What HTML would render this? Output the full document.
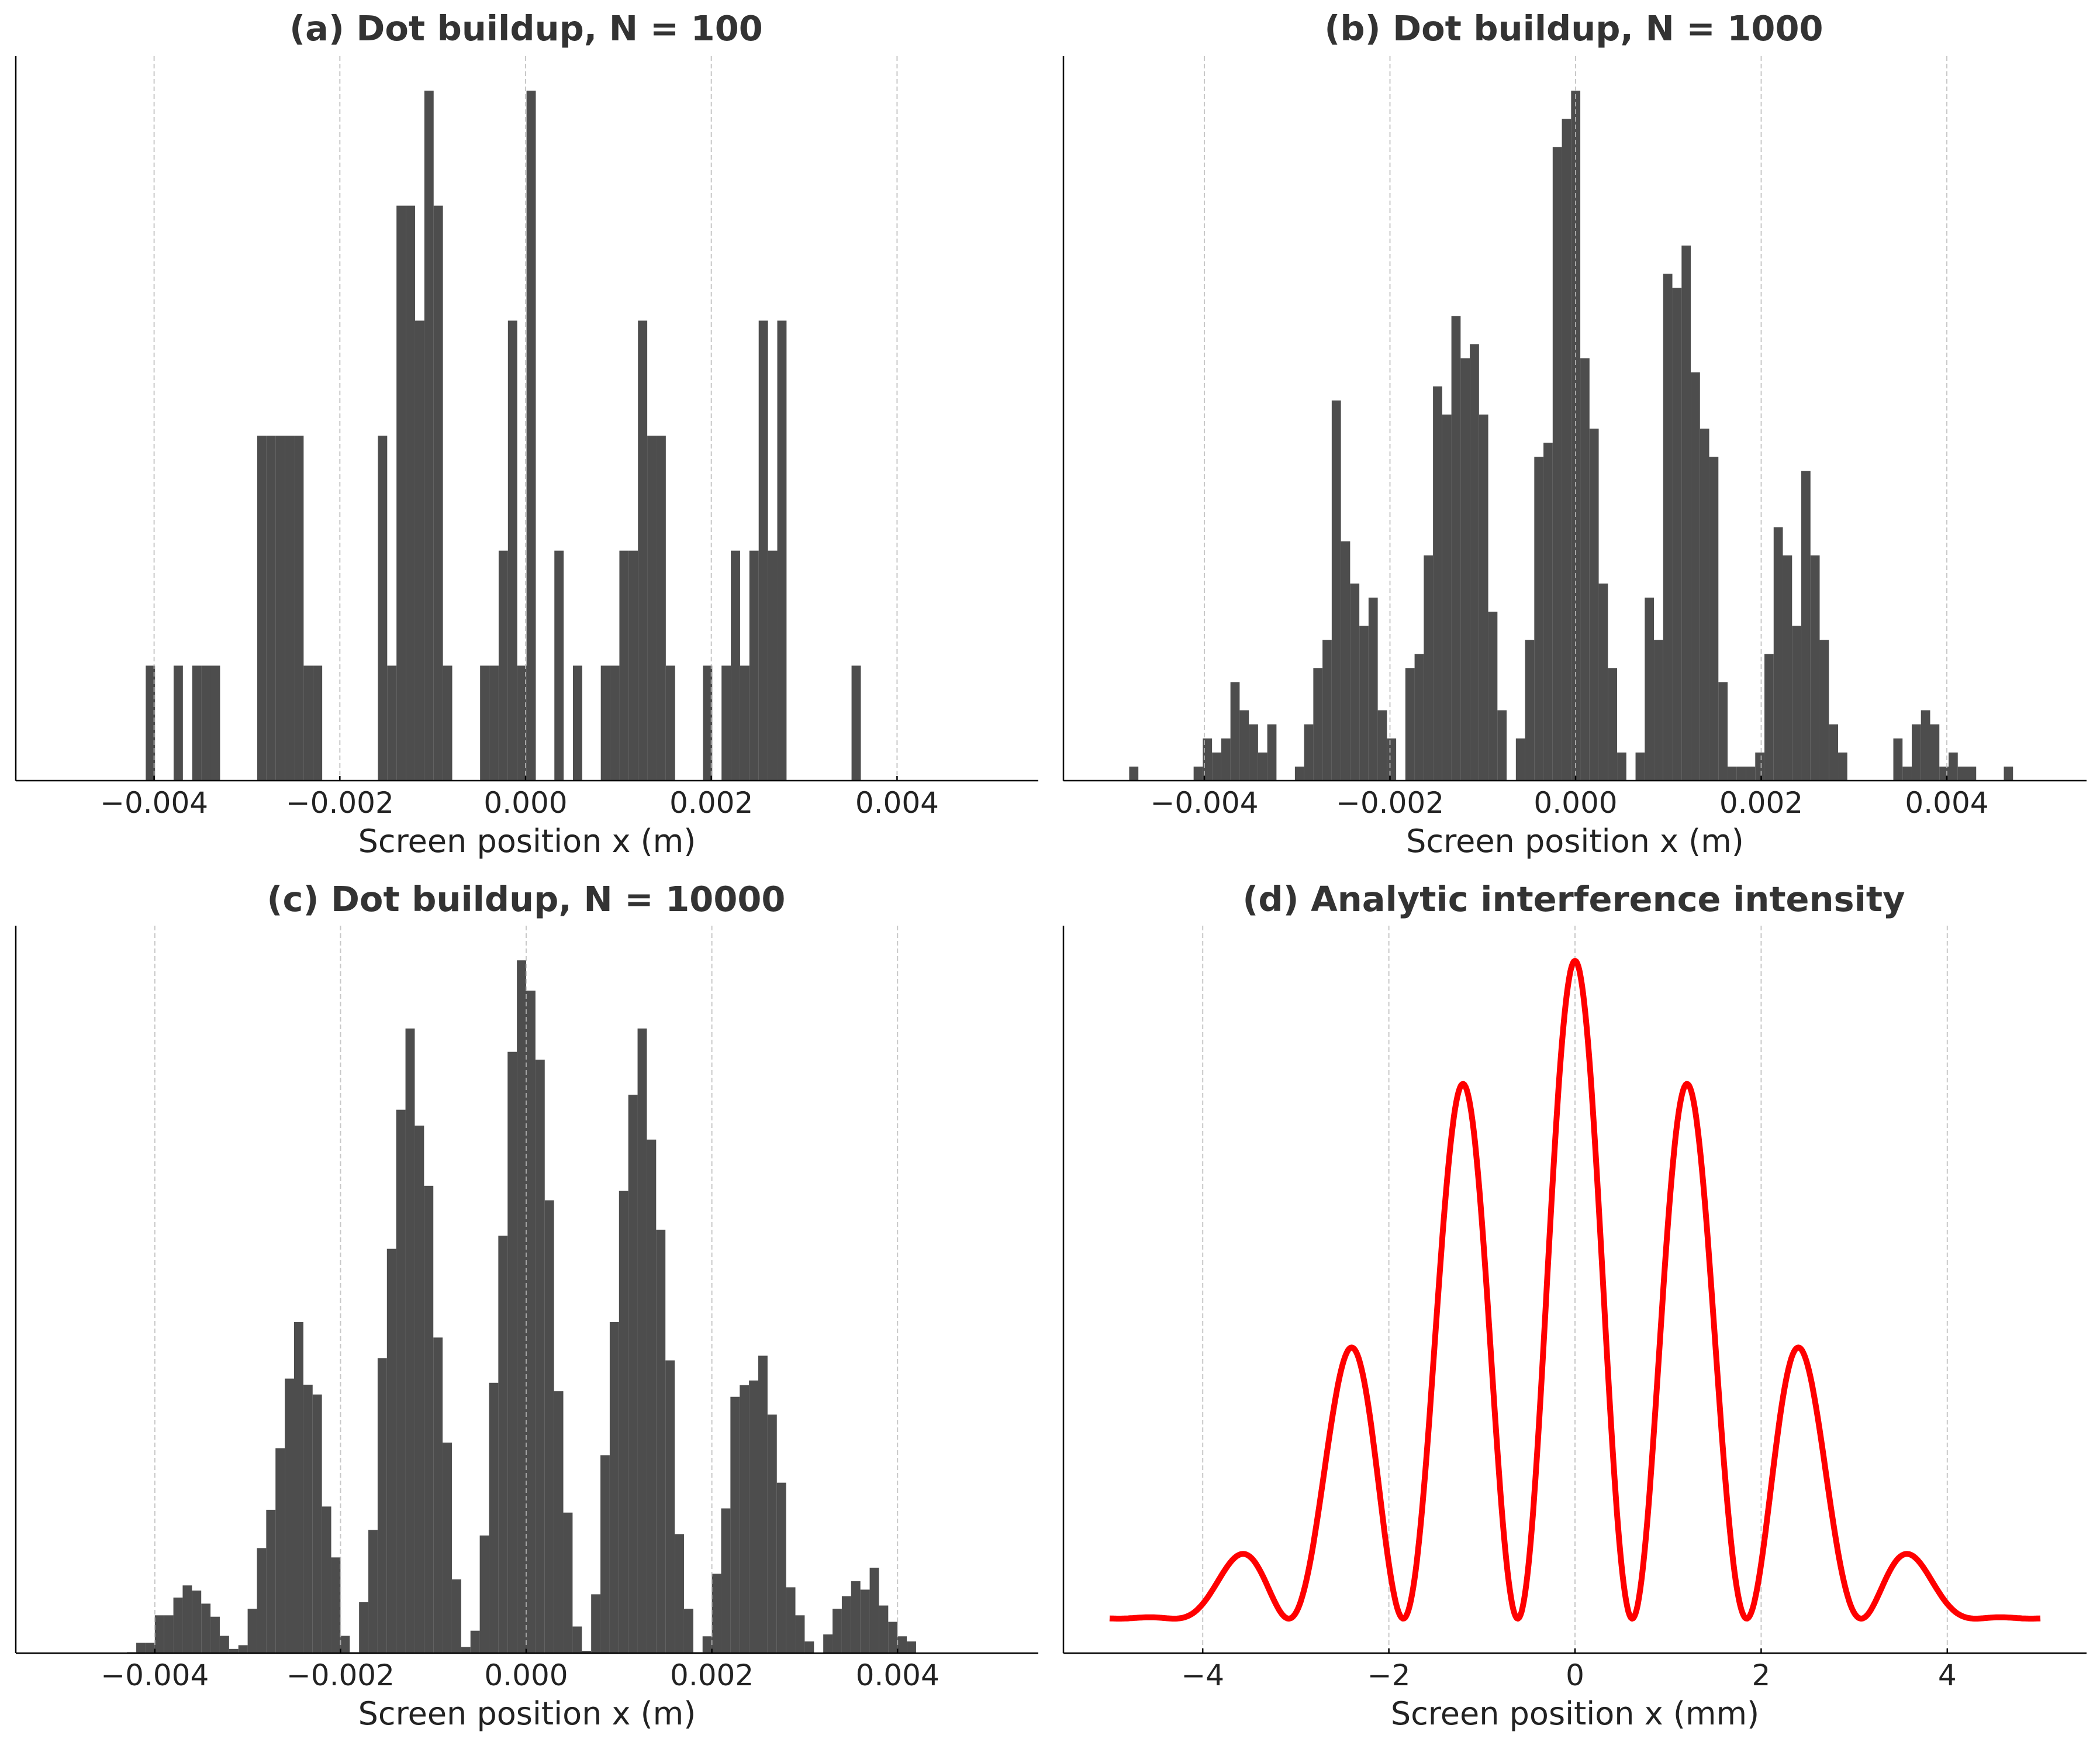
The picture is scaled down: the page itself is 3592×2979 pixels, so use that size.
<!DOCTYPE html>
<html><head><meta charset="utf-8"><style>
html,body{margin:0;padding:0;background:#fff;}
svg{display:block;}
text{font-family:"DejaVu Sans","Liberation Sans",sans-serif;}
</style></head><body>
<svg id="fig" width="3592" height="2979" viewBox="0 0 3592 2979" xmlns="http://www.w3.org/2000/svg"></svg>
<script>
// ---- data ----
const binWidthA = [0.0001];
const binWidthB = [0.0000992];
const binWidthC = [0.0001];
const histAEdge0 = [-0.00409];
const histACounts = [1,0,0,1,0,1,1,1,0,0,0,0,3,3,3,3,3,1,1,0,0,0,0,0,0,3,1,5,5,4,6,5,1,0,0,0,1,1,2,4,1,6,0,0,2,0,1,0,0,1,1,2,2,4,3,3,1,0,0,0,1,0,1,2,1,2,4,2,4,0,0,0,0,0,0,0,1];
const histBEdge0 = [-0.00481];
const histBCounts = [1,0,0,0,0,0,0,1,3,2,3,7,5,4,2,4,0,0,1,4,8,10,27,17,14,11,13,5,3,0,8,9,16,28,26,33,30,31,26,12,5,0,3,10,23,24,45,47,49,30,25,14,8,2,0,2,13,10,36,35,38,29,25,23,7,1,1,1,2,9,18,16,11,22,16,10,4,2,0,0,0,0,0,3,1,4,5,4,1,2,1,1,0,0,0,1];
const histCEdge0 = [-0.0043];
const histCCounts = [2,22,22,81,81,119,145,134,106,78,37,9,17,95,225,307,439,588,709,575,554,314,205,37,2,109,264,632,866,1164,1338,1130,1001,676,451,158,13,48,252,579,894,1288,1484,1419,1271,970,561,301,57,5,126,424,709,990,1196,1338,1100,907,627,255,95,2,36,170,310,549,574,584,637,511,365,141,81,25,0,40,95,122,154,136,183,102,67,36,25];
const tickValsM = [-0.004,-0.002,0,0.002,0.004];
const tickLabelsM = ["\u22120.004","\u22120.002","0.000","0.002","0.004"];
const tickValsMM = [-4,-2,0,2,4];
const tickLabelsMM = ["\u22124","\u22122","0","2","4"];
// analytic pattern parameters (mm)
const fringeSpacingMM = [1.23];
const envelopeZeroMM = [4.9];
const xRangeMM = [-5, 5];

const NS="http://www.w3.org/2000/svg";
const svg=document.getElementById('fig');
function mk(tag,attrs,parent){const e=document.createElementNS(NS,tag);for(const k in attrs)e.setAttribute(k,attrs[k]);(parent||svg).appendChild(e);return e;}

function panel(p){
  const g=mk('g',{});
  
  
  const sx=v=>p.x0+v*p.scale;
  const top=p.top, base=p.base;
  const t=mk('text',{x:p.titleX,y:p.titleY,'text-anchor':'middle','font-size':59,'font-weight':'bold',fill:'#333'},g);
  t.textContent=p.title;
  
  
  return {g,sx,top,base};
}
function axes(P,p,ticks,labels){
  const {g,sx,top,base}=P;
  ticks.forEach((v,i)=>{
    const gl=mk('line',{x1:sx(v),x2:sx(v),y1:top,y2:base,stroke:'#bbb','stroke-width':2,'stroke-dasharray':'8,5',opacity:0.8},g);
    
    
    const tk=mk('line',{x1:sx(v),x2:sx(v),y1:base,y2:base-8,stroke:'#000','stroke-width':2.5},g);
    
    
    const tl=mk('text',{x:sx(v),y:base+55,'text-anchor':'middle','font-size':50,fill:'#222'},g);
    tl.textContent=labels[i];
    
    
  });
  const ls=mk('line',{x1:p.left,x2:p.left,y1:top,y2:base,stroke:'#000','stroke-width':2.5},g);
  
  
  const bs=mk('line',{x1:p.left,x2:p.right,y1:base,y2:base,stroke:'#000','stroke-width':2.5},g);
  
  
  const xl=mk('text',{x:(p.left+p.right)/2,y:base+122,'text-anchor':'middle','font-size':54,fill:'#222'},g);
  xl.textContent=p.xlabel;
  
  
}
function hist(p,edge0,counts,w){
  const P=panel(p);
  const mx=Math.max(...counts)*1.05;
  const sy=c=>P.base-c/mx*(P.base-P.top);
  counts.forEach((c,i)=>{
    if(c<=0)return;
    const x1=P.sx(edge0+i*w), x2=P.sx(edge0+(i+1)*w);
    const r=mk('rect',{x:x1,y:sy(c),width:x2-x1,height:P.base-sy(c),fill:'#4d4d4d'},P.g);
    
    
  });
  axes(P,p,tickValsM,tickLabelsM);
}
hist({name:'panel-a',title:'(a) Dot buildup, N = 100',titleX:900,titleY:69,x0:899,scale:158850,top:96,base:1335,left:27,right:1776,xlabel:'Screen position x (m)'},histAEdge0[0],histACounts,binWidthA[0]);
hist({name:'panel-b',title:'(b) Dot buildup, N = 1000',titleX:2692,titleY:69,x0:2695,scale:158750,top:96,base:1335,left:1819,right:3569,xlabel:'Screen position x (m)'},histBEdge0[0],histBCounts,binWidthB[0]);
hist({name:'panel-c',title:'(c) Dot buildup, N = 10000',titleX:900,titleY:1558,x0:900,scale:158800,top:1583,base:2827,left:27,right:1776,xlabel:'Screen position x (m)'},histCEdge0[0],histCCounts,binWidthC[0]);

// panel d
(function(){
  const p={name:'panel-d',title:'(d) Analytic interference intensity',titleX:2692,titleY:1558,x0:2694,scale:159.2,top:1583,base:2827,left:1819,right:3569,xlabel:'Screen position x (mm)'};
  const P=panel(p);
  const y0=2768, y1=1643;
  const sy=v=>y0-v*(y0-y1);
  let d='';
  const n=800;
  for(let k=0;k<=n;k++){
    const x=xRangeMM[0]+(xRangeMM[1]-xRangeMM[0])*k/n;
    const u=Math.PI*x/envelopeZeroMM[0];
    const env=Math.abs(u)<1e-9?1:Math.pow(Math.sin(u)/u,2);
    const I=Math.pow(Math.cos(Math.PI*x/fringeSpacingMM[0]),2)*env;
    d+=(k?'L':'M')+P.sx(x).toFixed(1)+' '+sy(I).toFixed(1);
  }
  axes(P,p,tickValsMM,tickLabelsMM);
  const path=mk('path',{d:d,fill:'none',stroke:'#ff0000','stroke-width':10,'stroke-linejoin':'round'},P.g);
  
  
})();
</script>
</body></html>
